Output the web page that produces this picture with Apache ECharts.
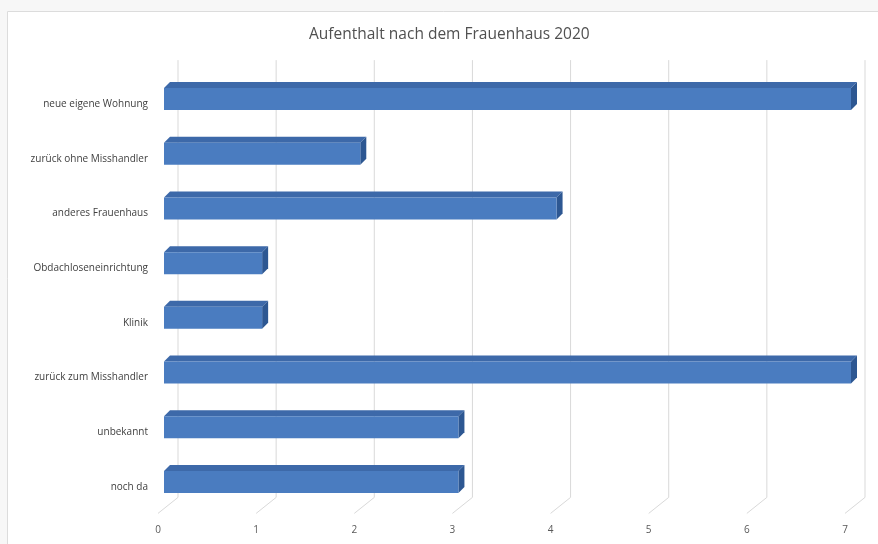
<!DOCTYPE html>
<html>
<head>
<meta charset="utf-8">
<script src="https://cdn.jsdelivr.net/npm/echarts@6/dist/echarts.min.js"></script>
<style>
html,body{margin:0;padding:0;background:#fff;}
#chart{width:878px;height:544px;}
</style>
</head>
<body>
<div id="chart"></div>
<script>
var titleText = 'Aufenthalt nach dem Frauenhaus 2020';
var categories = ['neue eigene Wohnung', 'zurück ohne Misshandler', 'anderes Frauenhaus', 'Obdachloseneinrichtung', 'Klinik', 'zurück zum Misshandler', 'unbekannt', 'noch da'];
var values = [7, 2, 4, 1, 1, 7, 3, 3];
var xTicks = [0, 1, 2, 3, 4, 5, 6, 7];

var chart = echarts.init(document.getElementById('chart'));

var FRONT = '#4a7cc0', TOP = '#3d69a9', SIDE = '#2d5792';

function gridRender(params, api) {
  var cs = params.coordSys;
  var p = api.coord([api.value(0), 0]);
  var x = p[0];
  var yb = cs.y + cs.height;
  return {
    type: 'polyline',
    shape: { points: [[x + 20, cs.y - 16.5], [x + 20, yb - 17], [x, yb - 1]] },
    style: { stroke: '#d9d9d9', lineWidth: 1, fill: null },
    silent: true
  };
}

function barRender(params, api) {
  var v = api.value(0), c = api.value(1);
  var p0 = api.coord([0, c]);
  var p1 = api.coord([v, c]);
  var x0 = p0[0] + 6, x1 = p1[0] + 6;
  var yc = p1[1] - 5;
  var t = yc - 11, b = yc + 11, d = 6;
  return {
    type: 'group',
    children: [
      { type: 'polygon', shape: { points: [[x0, t], [x0 + d, t - d], [x1 + d, t - d], [x1, t]] }, style: { fill: TOP } },
      { type: 'polygon', shape: { points: [[x1, t], [x1 + d, t - d], [x1 + d, b - d], [x1, b]] }, style: { fill: SIDE } },
      { type: 'rect', shape: { x: x0, y: t, width: x1 - x0, height: b - t }, style: { fill: FRONT } }
    ]
  };
}

var barData = values.map(function (v, i) { return [v, i]; });
var tickData = xTicks.map(function (v) { return [v]; });

chart.setOption({
  backgroundColor: '#f7f7f7',
  animation: false,
  graphic: [{
    type: 'rect', z: -10, silent: true,
    shape: { x: 7.5, y: 11.5, width: 900, height: 600 },
    style: { fill: '#ffffff', stroke: '#dcdcdc', lineWidth: 1 }
  }],
  title: {
    text: titleText,
    left: 304, top: 22,
    textStyle: { fontFamily: 'Open Sans', fontSize: 15.5, fontWeight: 'normal', color: '#505050' }
  },
  grid: { left: 158, right: 33, top: 76.6, bottom: 29.6 },
  xAxis: {
    type: 'value', min: 0, max: 7, interval: 1,
    axisLine: { show: false }, axisTick: { show: false }, splitLine: { show: false },
    axisLabel: { margin: 11, fontFamily: 'Open Sans', fontSize: 10, color: '#595959' }
  },
  yAxis: {
    type: 'category', data: categories, inverse: true,
    axisLine: { show: false }, axisTick: { show: false }, splitLine: { show: false },
    axisLabel: { margin: 10, fontFamily: 'Open Sans', fontSize: 10, color: '#404040' }
  },
  series: [
    { type: 'custom', renderItem: gridRender, data: tickData, encode: { x: 0 }, silent: true, z: 1, clip: false },
    { type: 'custom', renderItem: barRender, data: barData, encode: { x: 0, y: 1 }, z: 3, clip: false }
  ]
});
</script>
</body>
</html>
